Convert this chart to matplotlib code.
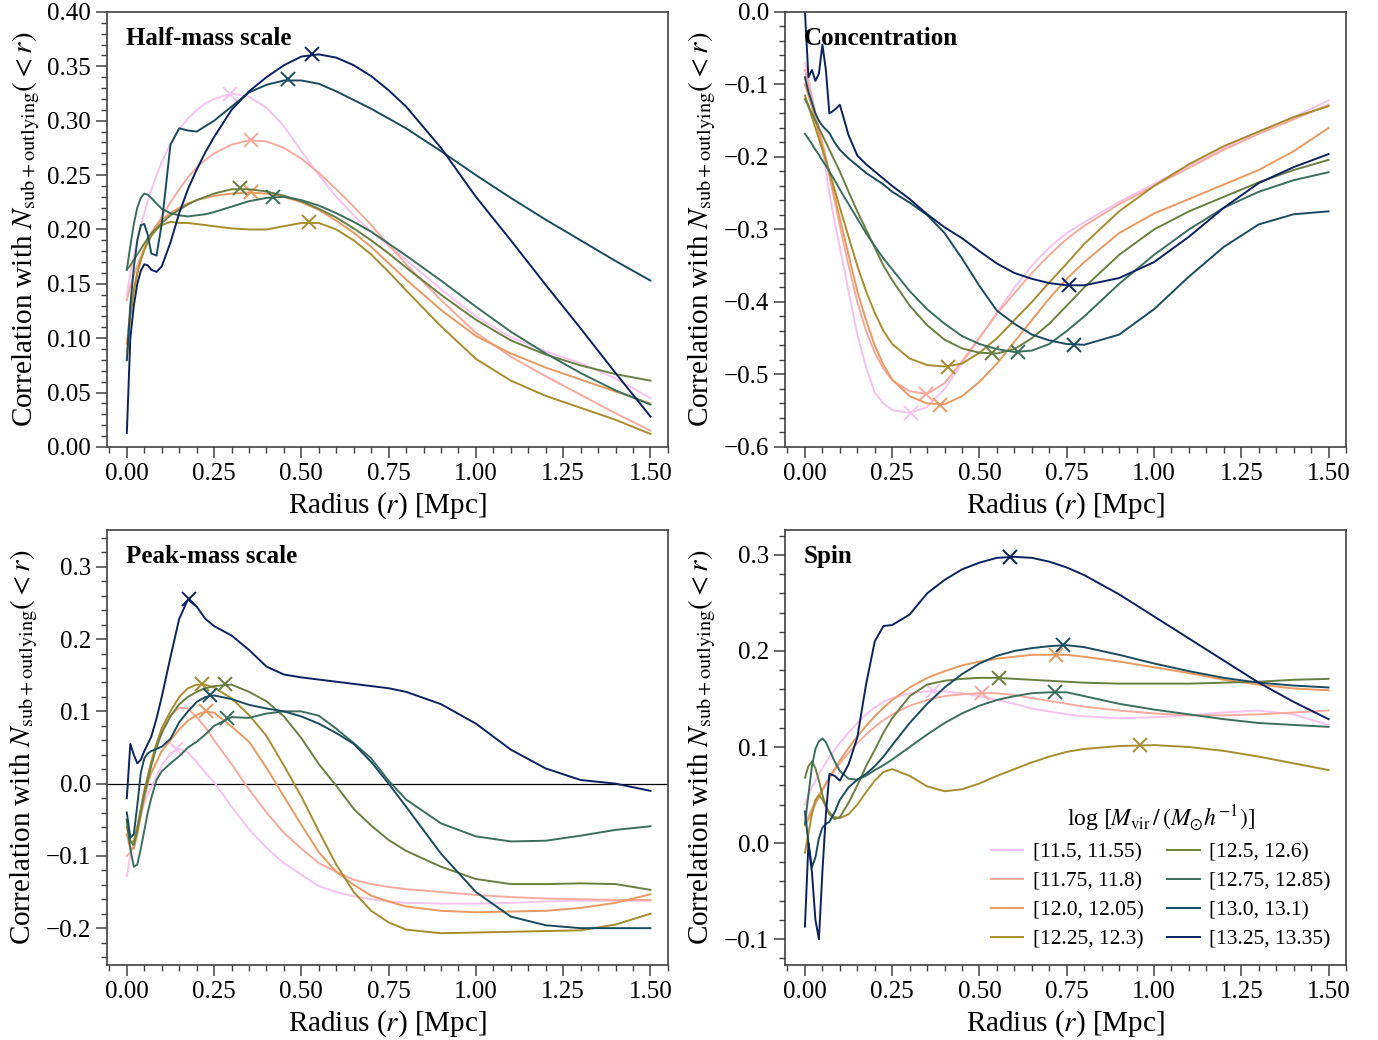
import numpy as np
import matplotlib
matplotlib.use("Agg")
import matplotlib.pyplot as plt
from matplotlib.ticker import MultipleLocator

plt.rcParams["font.family"] = ["Liberation Serif", "DejaVu Serif"]
plt.rcParams["mathtext.fontset"] = "stix"

##################
### Data       ###
##################

# radius grid [Mpc], shared by every curve
R = [0.0, 0.01, 0.02, 0.03, 0.04, 0.05, 0.06, 0.07, 0.085, 0.1, 0.125, 0.15, 0.175,
     0.2, 0.225, 0.25, 0.3, 0.35, 0.4, 0.45, 0.5, 0.55, 0.6, 0.65, 0.7, 0.75, 0.8,
     0.9, 1.0, 1.1, 1.2, 1.3, 1.4, 1.5]

MASS_BINS = ["[11.5, 11.55)", "[11.75, 11.8)", "[12.0, 12.05)", "[12.25, 12.3)",
             "[12.5, 12.6)", "[12.75, 12.85)", "[13.0, 13.1)", "[13.25, 13.35)"]
COLORS = ["#f6c3ef", "#f7aa9e", "#e89a62", "#a68d2e",
          "#6a7f41", "#3b6e5c", "#1a4b5e", "#0b2160"]

half_mass = [
    [0.14, 0.16, 0.175, 0.19, 0.203, 0.215, 0.226, 0.236, 0.25, 0.262, 0.279, 0.292, 0.302, 0.31, 0.316, 0.32, 0.325, 0.322, 0.312, 0.295, 0.272, 0.25, 0.23, 0.213, 0.198, 0.185, 0.172, 0.145, 0.12, 0.101, 0.088, 0.077, 0.063, 0.045],
    [0.135, 0.148, 0.158, 0.167, 0.175, 0.182, 0.189, 0.195, 0.203, 0.212, 0.225, 0.237, 0.248, 0.257, 0.264, 0.27, 0.278, 0.282, 0.281, 0.275, 0.265, 0.252, 0.237, 0.221, 0.204, 0.186, 0.168, 0.135, 0.105, 0.083, 0.065, 0.048, 0.031, 0.015],
    [0.095, 0.125, 0.145, 0.16, 0.172, 0.182, 0.19, 0.197, 0.204, 0.209, 0.215, 0.22, 0.224, 0.227, 0.229, 0.231, 0.233, 0.234, 0.233, 0.23, 0.225, 0.218, 0.208, 0.197, 0.184, 0.169, 0.154, 0.126, 0.102, 0.086, 0.073, 0.062, 0.051, 0.04],
    [0.08, 0.12, 0.143, 0.16, 0.172, 0.181, 0.188, 0.194, 0.2, 0.204, 0.207, 0.206, 0.206, 0.205, 0.204, 0.203, 0.201, 0.2, 0.2, 0.203, 0.206, 0.206, 0.2, 0.19, 0.177, 0.161, 0.144, 0.111, 0.081, 0.061, 0.047, 0.036, 0.025, 0.012],
    [0.163, 0.167, 0.172, 0.177, 0.182, 0.187, 0.192, 0.196, 0.201, 0.206, 0.213, 0.218, 0.223, 0.227, 0.23, 0.233, 0.237, 0.237, 0.235, 0.231, 0.226, 0.219, 0.211, 0.201, 0.19, 0.178, 0.165, 0.14, 0.117, 0.098, 0.085, 0.075, 0.067, 0.061],
    [0.163, 0.185, 0.205, 0.22, 0.229, 0.233, 0.232, 0.229, 0.224, 0.219, 0.215, 0.213, 0.212, 0.213, 0.214, 0.216, 0.221, 0.226, 0.229, 0.23, 0.227, 0.222, 0.215, 0.207, 0.198, 0.187, 0.176, 0.153, 0.129, 0.106, 0.086, 0.068, 0.052, 0.039],
    [0.08, 0.13, 0.165, 0.19, 0.204, 0.205, 0.195, 0.178, 0.176, 0.205, 0.278, 0.293, 0.291, 0.29, 0.295, 0.3, 0.313, 0.326, 0.333, 0.337, 0.337, 0.334, 0.327, 0.319, 0.311, 0.302, 0.293, 0.272, 0.25, 0.229, 0.209, 0.19, 0.171, 0.153],
    [0.013, 0.10, 0.13, 0.15, 0.162, 0.168, 0.167, 0.163, 0.161, 0.166, 0.188, 0.215, 0.237, 0.255, 0.271, 0.285, 0.31, 0.327, 0.34, 0.351, 0.359, 0.361, 0.358, 0.351, 0.341, 0.328, 0.313, 0.275, 0.23, 0.19, 0.149, 0.109, 0.068, 0.028],
]
half_mass_peak_r = [0.295, 0.357, 0.357, 0.522, 0.323, 0.42, 0.462, 0.53]
half_mass_peak_v = [0.325, 0.282, 0.234, 0.207, 0.238, 0.230, 0.338, 0.361]

concentration = [
    [-0.07, -0.09, -0.115, -0.14, -0.165, -0.19, -0.22, -0.25, -0.29, -0.325, -0.385, -0.445, -0.49, -0.525, -0.54, -0.549, -0.553, -0.545, -0.52, -0.485, -0.45, -0.415, -0.38, -0.35, -0.325, -0.305, -0.29, -0.262, -0.237, -0.212, -0.188, -0.165, -0.145, -0.122],
    [-0.08, -0.1, -0.12, -0.14, -0.16, -0.18, -0.2, -0.225, -0.26, -0.295, -0.35, -0.4, -0.44, -0.47, -0.492, -0.508, -0.523, -0.527, -0.512, -0.482, -0.449, -0.416, -0.388, -0.36, -0.335, -0.313, -0.295, -0.265, -0.24, -0.215, -0.19, -0.168, -0.148, -0.128],
    [-0.1, -0.115, -0.13, -0.15, -0.168, -0.185, -0.205, -0.225, -0.255, -0.285, -0.335, -0.385, -0.425, -0.46, -0.487, -0.507, -0.53, -0.54, -0.541, -0.53, -0.51, -0.485, -0.455, -0.425, -0.395, -0.368, -0.345, -0.305, -0.278, -0.258, -0.238, -0.218, -0.192, -0.16],
    [-0.115, -0.13, -0.145, -0.16, -0.175, -0.19, -0.205, -0.22, -0.245, -0.27, -0.31, -0.35, -0.385, -0.415, -0.44, -0.458, -0.478, -0.487, -0.489, -0.485, -0.47, -0.45, -0.425, -0.4, -0.373, -0.347, -0.32, -0.275, -0.24, -0.21, -0.185, -0.165, -0.145, -0.13],
    [-0.12, -0.13, -0.14, -0.15, -0.16, -0.17, -0.18, -0.19, -0.205, -0.22, -0.248, -0.275, -0.3, -0.325, -0.35, -0.37, -0.405, -0.432, -0.452, -0.464, -0.47, -0.471, -0.465, -0.45, -0.43, -0.405, -0.38, -0.335, -0.3, -0.275, -0.255, -0.235, -0.218, -0.204],
    [-0.168, -0.175, -0.182, -0.19, -0.197, -0.205, -0.212, -0.22, -0.232, -0.245, -0.265, -0.285, -0.305, -0.323, -0.34, -0.355, -0.385, -0.41, -0.43, -0.447, -0.458, -0.465, -0.469, -0.467, -0.458, -0.44, -0.42, -0.375, -0.335, -0.3, -0.27, -0.248, -0.232, -0.221],
    [-0.09, -0.11, -0.125, -0.14, -0.15, -0.157, -0.162, -0.167, -0.18, -0.19, -0.202, -0.212, -0.222, -0.23, -0.238, -0.248, -0.263, -0.28, -0.305, -0.34, -0.378, -0.412, -0.43, -0.445, -0.453, -0.458, -0.459, -0.445, -0.41, -0.365, -0.324, -0.293, -0.279, -0.275],
    [0.0, -0.09, -0.08, -0.095, -0.085, -0.045, -0.08, -0.14, -0.135, -0.128, -0.17, -0.198, -0.21, -0.22, -0.23, -0.24, -0.258, -0.279, -0.297, -0.312, -0.33, -0.347, -0.36, -0.368, -0.374, -0.377, -0.377, -0.367, -0.345, -0.31, -0.27, -0.236, -0.214, -0.196],
]
concentration_peak_r = [0.305, 0.347, 0.387, 0.409, 0.535, 0.611, 0.77, 0.757]
concentration_peak_v = [-0.553, -0.527, -0.542, -0.489, -0.471, -0.469, -0.459, -0.377]

peak_mass = [
    [-0.128, -0.1, -0.08, -0.06, -0.042, -0.027, -0.015, -0.005, 0.01, 0.025, 0.042, 0.048, 0.043, 0.03, 0.015, 0.002, -0.032, -0.063, -0.089, -0.11, -0.126, -0.142, -0.15, -0.156, -0.16, -0.163, -0.165, -0.166, -0.166, -0.165, -0.163, -0.162, -0.162, -0.162],
    [-0.1, -0.095, -0.085, -0.06, -0.035, -0.01, 0.01, 0.03, 0.055, 0.075, 0.095, 0.105, 0.104, 0.092, 0.078, 0.06, 0.027, -0.008, -0.04, -0.068, -0.09, -0.11, -0.122, -0.133, -0.139, -0.143, -0.146, -0.15, -0.154, -0.157, -0.159, -0.16, -0.161, -0.161],
    [-0.07, -0.09, -0.09, -0.07, -0.045, -0.02, 0.0, 0.015, 0.03, 0.045, 0.06, 0.075, 0.087, 0.095, 0.1, 0.098, 0.079, 0.058, 0.022, -0.018, -0.057, -0.095, -0.122, -0.14, -0.155, -0.163, -0.17, -0.176, -0.178, -0.177, -0.176, -0.172, -0.165, -0.153],
    [-0.06, -0.08, -0.08, -0.06, -0.035, -0.01, 0.01, 0.03, 0.055, 0.077, 0.1, 0.12, 0.132, 0.137, 0.137, 0.133, 0.118, 0.095, 0.066, 0.025, -0.018, -0.066, -0.112, -0.15, -0.176, -0.192, -0.202, -0.207, -0.206, -0.205, -0.204, -0.203, -0.195, -0.18],
    [-0.05, -0.08, -0.085, -0.065, -0.04, -0.015, 0.005, 0.025, 0.05, 0.07, 0.093, 0.11, 0.12, 0.127, 0.132, 0.135, 0.137, 0.127, 0.114, 0.093, 0.063, 0.027, -0.003, -0.035, -0.058, -0.078, -0.093, -0.115, -0.132, -0.139, -0.139, -0.138, -0.139, -0.147],
    [-0.05, -0.09, -0.115, -0.112, -0.09, -0.065, -0.04, -0.02, 0.005, 0.017, 0.028, 0.038, 0.05, 0.058, 0.068, 0.08, 0.092, 0.091, 0.097, 0.1, 0.1, 0.094, 0.076, 0.056, 0.035, 0.004, -0.022, -0.055, -0.073, -0.08, -0.079, -0.072, -0.064, -0.059],
    [-0.04, -0.075, -0.07, -0.03, 0.015, 0.035, 0.042, 0.045, 0.048, 0.051, 0.062, 0.085, 0.1, 0.113, 0.12, 0.122, 0.117, 0.109, 0.104, 0.1, 0.093, 0.083, 0.07, 0.055, 0.03, 0.0, -0.032, -0.097, -0.15, -0.184, -0.196, -0.2, -0.2, -0.2],
    [-0.02, 0.055, 0.04, 0.028, 0.033, 0.045, 0.055, 0.065, 0.09, 0.12, 0.175, 0.228, 0.255, 0.245, 0.228, 0.218, 0.205, 0.185, 0.162, 0.151, 0.147, 0.144, 0.141, 0.138, 0.135, 0.132, 0.127, 0.11, 0.083, 0.047, 0.021, 0.005, 0.0, -0.01],
]
peak_mass_peak_r = [0.14, np.nan, 0.228, 0.215, 0.281, 0.287, 0.238, 0.179]
peak_mass_peak_v = [0.048, np.nan, 0.100, 0.138, 0.138, 0.091, 0.122, 0.256]

spin = [
    [0.04, 0.05, 0.058, 0.065, 0.072, 0.078, 0.084, 0.09, 0.097, 0.104, 0.115, 0.125, 0.134, 0.141, 0.147, 0.151, 0.156, 0.158, 0.158, 0.156, 0.153, 0.149, 0.145, 0.14, 0.137, 0.134, 0.132, 0.13, 0.131, 0.133, 0.136, 0.138, 0.134, 0.123],
    [0.02, 0.028, 0.036, 0.043, 0.05, 0.056, 0.062, 0.068, 0.076, 0.083, 0.094, 0.104, 0.113, 0.121, 0.128, 0.134, 0.143, 0.149, 0.153, 0.155, 0.156, 0.156, 0.154, 0.151, 0.148, 0.145, 0.142, 0.138, 0.135, 0.133, 0.133, 0.134, 0.136, 0.138],
    [0.018, 0.025, 0.033, 0.041, 0.048, 0.055, 0.062, 0.068, 0.077, 0.086, 0.099, 0.111, 0.122, 0.132, 0.141, 0.149, 0.162, 0.172, 0.179, 0.185, 0.189, 0.192, 0.194, 0.196, 0.196, 0.196, 0.194, 0.189, 0.183, 0.177, 0.17, 0.165, 0.161, 0.159],
    [-0.01, 0.01, 0.03, 0.045, 0.05, 0.045, 0.038, 0.032, 0.027, 0.026, 0.03, 0.04, 0.053, 0.065, 0.074, 0.077, 0.07, 0.059, 0.054, 0.056, 0.062, 0.07, 0.077, 0.084, 0.09, 0.095, 0.098, 0.101, 0.102, 0.1, 0.096, 0.09, 0.083, 0.076],
    [0.068, 0.08, 0.085, 0.078, 0.065, 0.05, 0.038, 0.03, 0.025, 0.027, 0.042, 0.06, 0.08, 0.097, 0.115, 0.13, 0.153, 0.165, 0.169, 0.171, 0.172, 0.172, 0.171, 0.17, 0.169, 0.168, 0.167, 0.166, 0.166, 0.166, 0.167, 0.168, 0.17, 0.171],
    [0.02, 0.05, 0.08, 0.098, 0.106, 0.109, 0.105, 0.097, 0.085, 0.075, 0.067, 0.066, 0.07, 0.076, 0.081, 0.087, 0.1, 0.113, 0.125, 0.135, 0.143, 0.149, 0.153, 0.156, 0.157, 0.157, 0.153, 0.145, 0.139, 0.134, 0.129, 0.125, 0.123, 0.121],
    [0.033, 0.0, -0.025, -0.015, 0.005, 0.016, 0.02, 0.022, 0.032, 0.045, 0.058, 0.066, 0.072, 0.08, 0.09, 0.102, 0.125, 0.145, 0.162, 0.176, 0.187, 0.195, 0.2, 0.203, 0.205, 0.206, 0.204, 0.196, 0.187, 0.179, 0.172, 0.167, 0.164, 0.162],
    [-0.087, 0.0, -0.03, -0.08, -0.1, -0.03, 0.03, 0.072, 0.07, 0.065, 0.082, 0.11, 0.165, 0.21, 0.226, 0.227, 0.238, 0.26, 0.274, 0.285, 0.292, 0.297, 0.298, 0.297, 0.293, 0.287, 0.279, 0.259, 0.236, 0.213, 0.19, 0.167, 0.147, 0.129],
]
spin_peak_r = [0.368, 0.506, 0.719, 0.959, 0.557, 0.717, 0.739, 0.588]
spin_peak_v = [0.158, 0.156, 0.196, 0.102, 0.172, 0.157, 0.206, 0.298]

##################
### Plotting   ###
##################

YLABEL = r"Correlation with $N_{\mathrm{sub+outlying}}(<r)$"
XLABEL = r"Radius ($r$) [Mpc]"

fig = plt.figure(figsize=(13.78, 10.40), dpi=100)
W, H = 0.4071, 0.4183
ax_hm = fig.add_axes([0.0776, 0.5702, W, H])
ax_cn = fig.add_axes([0.5697, 0.5702, W, H])
ax_pm = fig.add_axes([0.0776, 0.0721, W, H])
ax_sp = fig.add_axes([0.5697, 0.0721, W, H])

panels = [
    (ax_hm, half_mass, half_mass_peak_r, half_mass_peak_v, "Half-mass scale", (0.0, 0.40), 0.05, 0.01),
    (ax_cn, concentration, concentration_peak_r, concentration_peak_v, "Concentration", (-0.6, 0.0), 0.1, 0.02),
    (ax_pm, peak_mass, peak_mass_peak_r, peak_mass_peak_v, "Peak-mass scale", (-0.251, 0.351), 0.1, 0.02),
    (ax_sp, spin, spin_peak_r, spin_peak_v, "Spin", (-0.127, 0.326), 0.1, 0.02),
]

for ax, curves, pr, pv, title, ylim, ymaj, ymin in panels:
    for i, vals in enumerate(curves):
        ax.plot(R, vals, color=COLORS[i], lw=1.4, label=MASS_BINS[i])
        ax.plot(pr[i], pv[i], "x", color=COLORS[i], ms=10, mew=1.4)
    ax.set_xlim(-0.057, 1.55)
    ax.set_ylim(*ylim)
    ax.xaxis.set_major_locator(MultipleLocator(0.25))
    ax.xaxis.set_minor_locator(MultipleLocator(0.05))
    ax.yaxis.set_major_locator(MultipleLocator(ymaj))
    ax.yaxis.set_minor_locator(MultipleLocator(ymin))
    if ymaj == 0.05:
        ax.yaxis.set_major_formatter(plt.FormatStrFormatter("%.2f"))
    else:
        ax.yaxis.set_major_formatter(plt.FuncFormatter(
            lambda v, p: ("%.1f" % v).replace("-", "\u2212") if abs(v) > 1e-9 else "0.0"))
    ax.tick_params(which="both", direction="out", labelsize=18, color="0.25",
                   top=False, right=False)
    ax.tick_params(which="major", length=8, width=1.1)
    ax.tick_params(which="minor", length=4, width=1.0)
    for sp in ax.spines.values():
        sp.set_color("0.25")
        sp.set_linewidth(1.2)
    ax.set_xlabel(XLABEL, fontsize=21, labelpad=4)
    ax.set_ylabel(YLABEL, fontsize=21, labelpad=4)
    ax.text(0.034, 0.965, title, transform=ax.transAxes, ha="left", va="top",
            fontsize=18, fontweight="bold")

ax_pm.axhline(0.0, color="black", lw=0.9, zorder=0)

leg = ax_sp.legend(loc="lower right", ncol=2, frameon=False, fontsize=15.5,
                   title=r"log $[M_{\rm vir}\,/\,(M_{\odot}h^{-1})]$",
                   title_fontsize=17, handlelength=1.5, columnspacing=1.1,
                   labelspacing=0.42, handletextpad=0.45, borderaxespad=0.3)

fig.savefig("out.png", dpi=100)
